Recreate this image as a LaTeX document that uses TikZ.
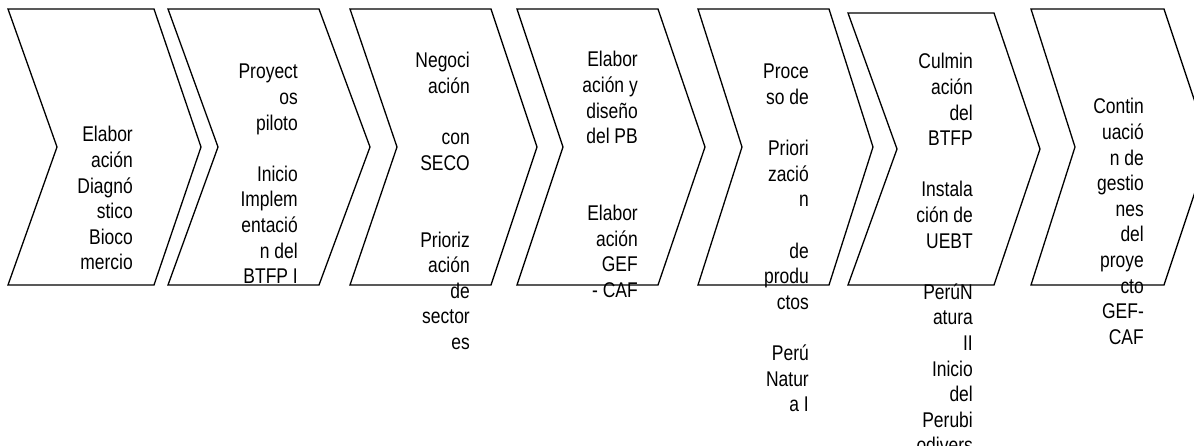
\documentclass[tikz,border=0pt]{standalone}
\usepackage{fontspec}
\setmainfont{Liberation Sans}
\newfontfamily\narrowsans[FakeStretch=0.82]{Liberation Sans}
\begin{document}
\begin{tikzpicture}[x=1pt,y=-1pt,
  chevshape/.style={draw=black,line width=1.3pt,line join=miter},
  chevtext/.style={anchor=base east,inner sep=0pt,text=black,
    font=\narrowsans\fontsize{21.3pt}{25.6pt}\selectfont}]
\clip (0,0) rectangle (1194,446);
% chevrons: left / right / tip / notch / top / middle
\foreach \L/\R/\T/\N/\ty/\my in {
  8/154/201/57/9/147,
  168/319/370/218/9/147,
  350/491/537/397/9/147,
  517/658/705/563/9/147,
  698/829/873/742/9/147,
  848/994/1040/897/13/149,
  1031/1164/1210/1075/9/147}
  \draw[chevshape] (\L,\ty) -- (\R,\ty) -- (\T,\my) -- (\R,285) -- (\L,285) -- (\N,\my) -- cycle;
% texts
\node[chevtext] (t1) at (133,142) {\begin{tabular}[t]{@{}r@{}}Elabor\\ación\\Diagnó\\stico\\Bioco\\mercio\end{tabular}};
\node[chevtext] (t2) at (298,79) {\begin{tabular}[t]{@{}r@{}}Proyect\\os\\piloto\\ \\Inicio\\Implem\\entació\\n del\\BTFP I\end{tabular}};
\node[chevtext] (t3) at (470,68) {\begin{tabular}[t]{@{}r@{}}Negoci\\ación\\ \\con\\SECO\\ \\ \\Prioriz\\ación\\de\\sector\\es\end{tabular}};
\node[chevtext] (t4) at (638,67) {\begin{tabular}[t]{@{}r@{}}Elabor\\ación y\\diseño\\del PB\\ \\ \\Elabor\\ación\\GEF\\- CAF\end{tabular}};
\node[chevtext] (t5) at (809,79) {\begin{tabular}[t]{@{}r@{}}Proce\\so de\\ \\Priori\\zació\\n\\ \\de\\produ\\ctos\\ \\Perú\\Natur\\a I\end{tabular}};
\node[chevtext] (t6) at (973,69) {\begin{tabular}[t]{@{}r@{}}Culmin\\ación\\del\\BTFP\\ \\Instala\\ción de\\UEBT\\ \\PerúN\\atura\\II\\Inicio\\del\\Perubi\\odivers\end{tabular}};
\node[chevtext] (t7) at (1144,114) {\begin{tabular}[t]{@{}r@{}}Contin\\uació\\n de\\gestio\\nes\\del\\proye\\cto\\GEF-\\CAF\end{tabular}};
\end{tikzpicture}
\end{document}
